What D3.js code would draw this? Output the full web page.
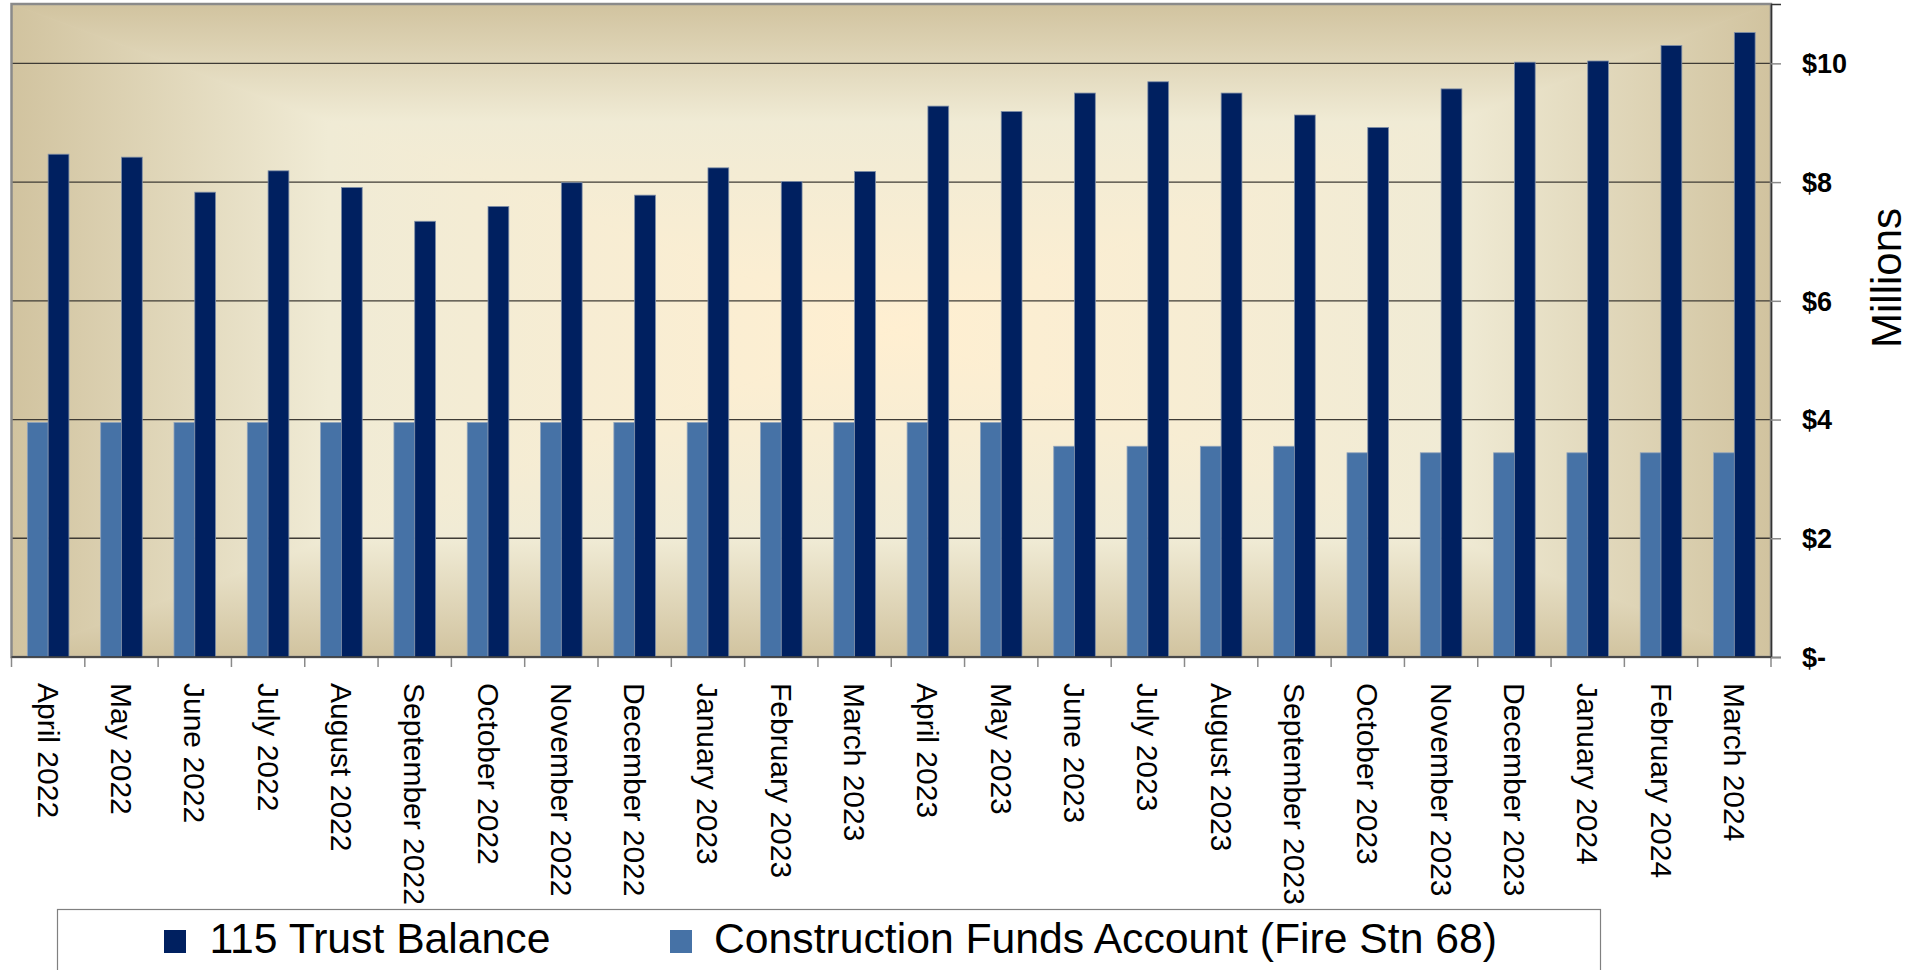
<!DOCTYPE html>
<html>
<head>
<meta charset="utf-8">
<script src="https://cdn.jsdelivr.net/npm/d3@7"></script>
<style>
  html, body { margin: 0; padding: 0; background: #ffffff; }
  svg { display: block; }
  text { font-family: "Liberation Sans", Arial, Helvetica, sans-serif; }
</style>
</head>
<body>
<svg id="chart" width="1927" height="970"></svg>
<script>
// ---------------- DATA ----------------
const months = [
  "April 2022", "May 2022", "June 2022", "July 2022", "August 2022", "September 2022",
  "October 2022", "November 2022", "December 2022", "January 2023", "February 2023", "March 2023",
  "April 2023", "May 2023", "June 2023", "July 2023", "August 2023", "September 2023",
  "October 2023", "November 2023", "December 2023", "January 2024", "February 2024", "March 2024"
];
// values in millions of dollars
const trustBalance = [
  8.47, 8.42, 7.83, 8.19, 7.91, 7.34,
  7.59, 7.99, 7.78, 8.24, 8.01, 8.18,
  9.28, 9.19, 9.50, 9.69, 9.50, 9.13,
  8.92, 9.57, 10.02, 10.04, 10.30, 10.52
];
const constructionFunds = [
  3.95, 3.95, 3.95, 3.95, 3.95, 3.95,
  3.95, 3.95, 3.95, 3.95, 3.95, 3.95,
  3.95, 3.95, 3.55, 3.55, 3.55, 3.55,
  3.44, 3.44, 3.44, 3.44, 3.44, 3.44
];
const seriesNames = ["115 Trust Balance", "Construction Funds Account (Fire Stn 68)"];
const yTickValues = [0, 2, 4, 6, 8, 10];
const yTickLabels = ["$-", "$2", "$4", "$6", "$8", "$10"];
const yAxisTitle = "Millions";

// ---------------- STYLE / LAYOUT ----------------
const colorTrust = "#002060";
const colorConstr = "#4672A6";
const plot = { left: 11.5, right: 1771, top: 4, bottom: 657 };
const cx = (plot.left + plot.right) / 2, cy = (plot.top + plot.bottom) / 2;

const svg = d3.select("#chart");
const defs = svg.append("defs");

// Rectangular ("from center") parchment gradient built from 4 triangles
const stops = [
  { o: 0, c: "#D1C39F" },
  { o: 0.36, c: "#F0EBD5" },
  { o: 1, c: "#FFEFD1" }
];
const tris = [
  { id: "gTop", pts: [[plot.left, plot.top], [plot.right, plot.top], [cx, cy]], g: [cx, plot.top, cx, cy] },
  { id: "gBot", pts: [[plot.left, plot.bottom], [plot.right, plot.bottom], [cx, cy]], g: [cx, plot.bottom, cx, cy] },
  { id: "gLeft", pts: [[plot.left, plot.top], [plot.left, plot.bottom], [cx, cy]], g: [plot.left, cy, cx, cy] },
  { id: "gRight", pts: [[plot.right, plot.top], [plot.right, plot.bottom], [cx, cy]], g: [plot.right, cy, cx, cy] }
];
tris.forEach(t => {
  const lg = defs.append("linearGradient").attr("id", t.id)
    .attr("gradientUnits", "userSpaceOnUse")
    .attr("x1", t.g[0]).attr("y1", t.g[1]).attr("x2", t.g[2]).attr("y2", t.g[3]);
  stops.forEach(s => lg.append("stop").attr("offset", s.o).attr("stop-color", s.c));
});

const bg = svg.append("g");
bg.append("rect").attr("x", plot.left).attr("y", plot.top)
  .attr("width", plot.right - plot.left).attr("height", plot.bottom - plot.top)
  .attr("fill", "#EDE3C8");
tris.forEach(t => {
  bg.append("polygon").attr("points", t.pts.map(p => p.join(",")).join(" "))
    .attr("fill", `url(#${t.id})`).attr("stroke", `url(#${t.id})`).attr("stroke-width", 0.8);
});

// ---------------- SCALES ----------------
const x = d3.scaleBand().domain(months).range([plot.left, plot.right])
  .paddingInner(0.433).paddingOuter(0.2165);
const xs = d3.scaleBand().domain(["constr", "trust"]).range([0, x.bandwidth()]);
const y = d3.scaleLinear().domain([0, 11]).range([plot.bottom, plot.top]);

// gridlines
svg.append("g").selectAll("line").data(yTickValues.filter(v => v > 0)).join("line")
  .attr("x1", plot.left).attr("x2", plot.right)
  .attr("y1", d => y(d)).attr("y2", d => y(d))
  .attr("stroke", "#3e3b35").attr("stroke-width", 1.3);

// plot border (gray)
svg.append("rect").attr("x", plot.left).attr("y", plot.top)
  .attr("width", plot.right - plot.left).attr("height", plot.bottom - plot.top)
  .attr("fill", "none").attr("stroke", "#8a8a8a").attr("stroke-width", 2.5);

// bars
const rows = months.map((m, i) => ({ m, trust: trustBalance[i], constr: constructionFunds[i] }));
const barG = svg.append("g");
barG.selectAll("rect.c").data(rows).join("rect").attr("class", "c")
  .attr("x", d => x(d.m) + xs("constr")).attr("width", xs.bandwidth())
  .attr("y", d => y(d.constr)).attr("height", d => y(0) - y(d.constr))
  .attr("fill", colorConstr).attr("stroke", "#8FA3BC").attr("stroke-width", 0.8);
barG.selectAll("rect.t").data(rows).join("rect").attr("class", "t")
  .attr("x", d => x(d.m) + xs("trust")).attr("width", xs.bandwidth())
  .attr("y", d => y(d.trust)).attr("height", d => y(0) - y(d.trust))
  .attr("fill", colorTrust).attr("stroke", "#7F8FA8").attr("stroke-width", 0.8);

// y axis (right)
const yAxis = svg.append("g").attr("transform", `translate(${plot.right},0)`)
  .call(d3.axisRight(y).tickValues(yTickValues)
    .tickFormat((d, i) => yTickLabels[i]).tickSize(10).tickPadding(21));
yAxis.select(".domain").attr("stroke", "#333").attr("stroke-width", 1.5);
yAxis.selectAll(".tick line").attr("stroke", "#8a8a8a").attr("stroke-width", 1.5);
yAxis.selectAll(".tick text").attr("fill", "#000").style("font-size", "27px")
  .style("font-weight", "bold").attr("dy", "0.35em")
  .style("font-family", "'Liberation Sans', Arial, sans-serif");

// x axis
const xAxis = svg.append("g").attr("transform", `translate(0,${plot.bottom})`)
  .call(d3.axisBottom(x).tickSize(0).tickPadding(0));
xAxis.select(".domain").remove();
xAxis.selectAll(".tick text")
  .attr("transform", "rotate(90)").attr("x", 26).attr("y", 0).attr("dy", "0.35em")
  .style("text-anchor", "start").style("font-size", "30px").attr("fill", "#000")
  .style("font-family", "'Liberation Sans', Arial, sans-serif");
// boundary ticks
const bounds = d3.range(months.length + 1).map(i => plot.left + i * x.step());
svg.append("g").selectAll("line").data(bounds).join("line")
  .attr("x1", d => d).attr("x2", d => d)
  .attr("y1", plot.bottom).attr("y2", plot.bottom + 10)
  .attr("stroke", "#8a8a8a").attr("stroke-width", 1.5);
svg.append("line").attr("x1", plot.left).attr("x2", plot.right)
  .attr("y1", plot.bottom).attr("y2", plot.bottom)
  .attr("stroke", "#333").attr("stroke-width", 1.5);

// y axis title
svg.append("text").attr("transform", `translate(1886,278) rotate(-90)`)
  .attr("text-anchor", "middle").attr("dy", "0.35em")
  .style("font-size", "42px").attr("fill", "#000").text(yAxisTitle);

// legend
svg.append("rect").attr("x", 57.5).attr("y", 909.5).attr("width", 1543).attr("height", 120)
  .attr("fill", "#fff").attr("stroke", "#808080").attr("stroke-width", 1.2);
const legendItems = [
  { name: seriesNames[0], color: colorTrust, mx: 164, tx: 209.5 },
  { name: seriesNames[1], color: colorConstr, mx: 670, tx: 714 }
];
const lg = svg.append("g").selectAll("g").data(legendItems).join("g");
lg.append("rect").attr("x", d => d.mx).attr("y", 930).attr("width", 22).attr("height", 23)
  .attr("fill", d => d.color);
lg.append("text").attr("x", d => d.tx).attr("y", 953)
  .style("font-size", "42.7px").attr("fill", "#000").text(d => d.name);
</script>
</body>
</html>
